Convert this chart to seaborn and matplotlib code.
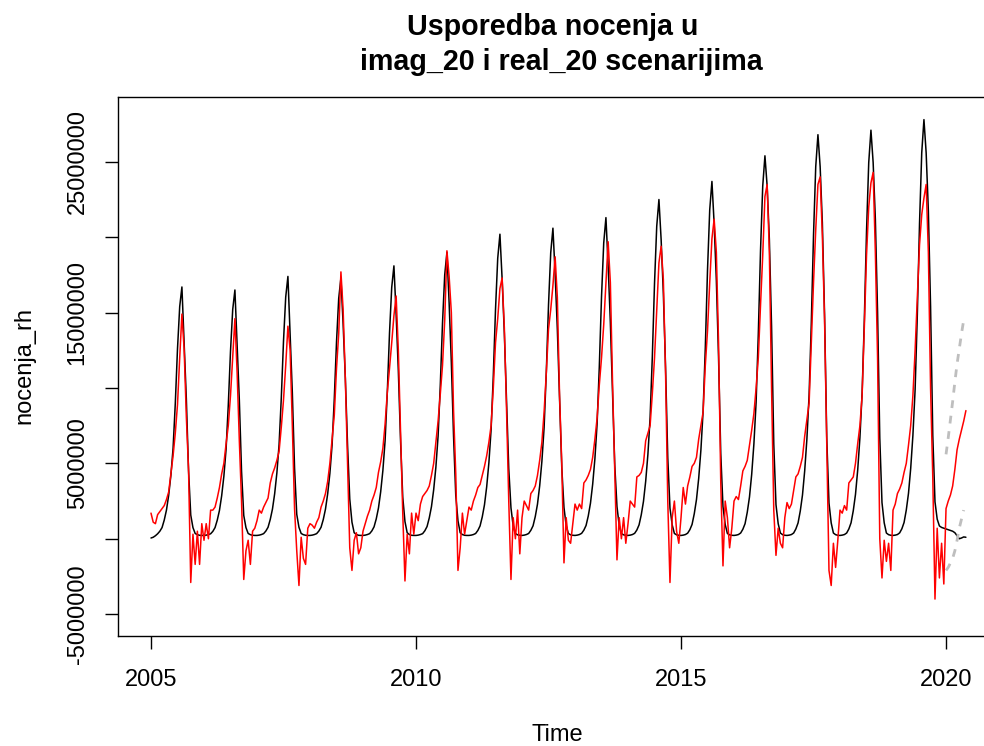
import numpy as np
import matplotlib
matplotlib.use("Agg")
import matplotlib.pyplot as plt
import seaborn as sns

# --- DATA (values in millions, 24 readings per year, from 2005.0) ---
START_YEAR = 2005
PER_YEAR = 24

imag_20 = [
    # 2005
    0.05, 0.1, 0.2, 0.33, 0.5, 0.74, 1.24, 1.9, 2.88, 4.2, 6.0, 8.97, 12.6, 15.4, 16.7, 13.08, 9.3, 4.53, 1.57, 0.74, 0.35, 0.27, 0.23, 0.22,
    # 2006
    0.22, 0.24, 0.28, 0.33, 0.49, 0.74, 1.23, 1.88, 2.85, 4.15, 5.94, 8.86, 12.44, 15.2, 16.5, 12.93, 9.19, 4.48, 1.55, 0.74, 0.35, 0.27, 0.23, 0.22,
    # 2007
    0.22, 0.24, 0.28, 0.34, 0.51, 0.76, 1.28, 1.97, 2.99, 4.37, 6.25, 9.34, 13.11, 16.03, 17.4, 13.63, 9.68, 4.71, 1.62, 0.76, 0.35, 0.27, 0.23, 0.22,
    # 2008
    0.22, 0.24, 0.28, 0.34, 0.51, 0.76, 1.27, 1.96, 2.98, 4.34, 6.22, 9.29, 13.04, 15.94, 17.3, 14.23, 10.65, 6.22, 2.64, 1.1, 0.4, 0.28, 0.23, 0.22,
    # 2009
    0.22, 0.24, 0.28, 0.34, 0.52, 0.79, 1.32, 2.04, 3.11, 4.53, 6.5, 9.71, 13.64, 16.67, 18.1, 14.89, 11.14, 6.5, 2.75, 1.14, 0.4, 0.28, 0.23, 0.22,
    # 2010
    0.22, 0.24, 0.28, 0.34, 0.53, 0.81, 1.38, 2.13, 3.25, 4.75, 6.81, 10.19, 14.31, 17.5, 19.0, 15.63, 11.69, 6.81, 2.88, 1.19, 0.4, 0.28, 0.23, 0.22,
    # 2011
    0.22, 0.24, 0.28, 0.35, 0.55, 0.85, 1.45, 2.25, 3.44, 5.04, 7.23, 10.82, 15.21, 18.6, 20.2, 17.21, 13.62, 9.23, 4.64, 2.05, 0.85, 0.35, 0.26, 0.23,
    # 2012
    0.22, 0.24, 0.28, 0.35, 0.56, 0.86, 1.47, 2.29, 3.51, 5.13, 7.37, 11.04, 15.51, 18.97, 20.6, 17.55, 13.88, 9.41, 4.73, 2.08, 0.86, 0.35, 0.26, 0.23,
    # 2013
    0.22, 0.24, 0.28, 0.36, 0.57, 0.88, 1.51, 2.36, 3.62, 5.3, 7.62, 11.41, 16.04, 19.62, 21.3, 18.14, 14.35, 9.72, 4.88, 2.14, 0.88, 0.35, 0.26, 0.23,
    # 2014
    0.22, 0.24, 0.28, 0.36, 0.58, 0.92, 1.59, 2.48, 3.81, 5.59, 8.04, 12.04, 16.94, 20.72, 22.5, 19.83, 16.27, 11.38, 5.37, 2.03, 0.92, 0.35, 0.26, 0.23,
    # 2015
    0.22, 0.24, 0.28, 0.37, 0.6, 0.95, 1.66, 2.6, 4.0, 5.88, 8.46, 12.68, 17.84, 21.82, 23.7, 20.89, 17.13, 11.98, 5.64, 2.13, 0.95, 0.35, 0.26, 0.23,
    # 2016
    0.22, 0.24, 0.28, 0.38, 0.63, 1.0, 1.76, 2.77, 4.27, 6.29, 9.05, 13.58, 19.11, 23.39, 25.4, 23.39, 19.87, 14.08, 6.29, 2.26, 1.0, 0.38, 0.27, 0.23,
    # 2017
    0.22, 0.24, 0.28, 0.38, 0.65, 1.05, 1.84, 2.9, 4.5, 6.62, 9.54, 14.32, 20.16, 24.68, 26.8, 24.68, 20.96, 14.85, 6.62, 2.37, 1.05, 0.38, 0.27, 0.23,
    # 2018
    0.22, 0.24, 0.28, 0.38, 0.65, 1.06, 1.86, 2.94, 4.55, 6.69, 9.65, 14.48, 20.39, 24.95, 27.1, 24.95, 21.19, 15.02, 6.69, 2.4, 1.06, 0.38, 0.27, 0.23,
    # 2019
    0.22, 0.24, 0.28, 0.39, 0.66, 1.08, 1.9, 3.01, 4.66, 6.86, 9.89, 14.85, 20.91, 25.6, 27.8, 25.6, 21.74, 15.4, 6.86, 2.45, 1.3, 0.85, 0.75, 0.7,
    # 2020
    0.65, 0.6, 0.55, 0.5, 0.4, 0.2, 0.0, 0.05, 0.12, 0.1,
]

real_20 = [
    # 2005
    1.7, 1.1, 1.0, 1.6, 1.8, 2.0, 2.2, 2.6, 3.1, 4.3, 5.5, 7.0, 8.9, 12.0, 14.9, 12.6, 8.1, 4.6, -2.9, 0.3, -1.7, 0.5, -1.7, 1.0,
    # 2006
    -0.1, 1.0, 0.0, 1.9, 1.9, 2.1, 2.7, 3.4, 4.3, 5.0, 6.3, 7.5, 9.5, 12.0, 14.6, 11.0, 6.5, 2.5, -2.7, -0.8, -0.1, -1.7, 0.5, 0.7,
    # 2007
    1.2, 1.9, 1.7, 2.1, 2.4, 2.7, 3.7, 4.3, 4.7, 5.2, 5.8, 7.4, 9.2, 11.5, 14.1, 12.5, 7.5, 2.0, -0.8, -3.1, 0.1, -1.3, -1.7, 0.7,
    # 2008
    1.0, 0.9, 0.7, 1.1, 1.4, 2.1, 2.5, 3.0, 3.8, 5.0, 6.6, 8.2, 11.3, 13.6, 17.7, 15.2, 10.6, 5.0, -0.6, -2.1, -0.1, 0.4, -1.0, -0.6,
    # 2009
    0.5, 1.0, 1.5, 1.9, 2.5, 2.9, 3.4, 4.4, 5.1, 6.0, 7.6, 9.7, 11.3, 13.0, 14.8, 16.1, 12.5, 7.2, 1.7, -2.8, 0.3, -1.0, 1.7, 0.3,
    # 2010
    1.7, 1.2, 2.3, 2.8, 3.0, 3.2, 3.5, 4.2, 5.0, 6.4, 7.8, 9.6, 11.5, 14.5, 19.1, 17.4, 15.0, 8.5, 4.3, -2.1, -0.6, 1.7, 0.3, 1.2,
    # 2011
    2.1, 1.9, 2.5, 2.9, 3.4, 3.6, 4.2, 4.8, 5.5, 6.4, 7.5, 10.0, 13.0, 14.6, 16.6, 17.3, 14.0, 8.5, 2.5, -2.7, 1.4, 0.0, 1.9, -1.0,
    # 2012
    1.4, 2.5, 2.2, 1.9, 3.0, 3.2, 3.5, 4.2, 5.2, 6.4, 8.4, 11.0, 13.9, 15.2, 16.8, 18.7, 16.0, 9.5, 5.0, -1.6, 1.4, -0.1, -0.3, 1.0,
    # 2013
    2.3, 1.9, 2.3, 2.0, 3.7, 3.9, 4.2, 4.6, 5.4, 6.6, 8.0, 10.2, 12.0, 14.2, 17.0, 19.7, 17.0, 10.3, 4.5, -1.4, 1.4, 0.0, 1.4, -0.3,
    # 2014
    1.0, 2.5, 2.3, 2.1, 4.1, 4.2, 4.4, 5.0, 6.5, 7.0, 7.5, 9.6, 12.0, 15.2, 18.3, 19.4, 17.2, 11.0, 2.5, -2.9, 1.4, 2.5, 0.5, -0.3,
    # 2015
    1.4, 3.4, 2.3, 3.5, 4.1, 4.8, 5.0, 5.4, 6.6, 7.5, 8.4, 11.5, 13.8, 17.0, 19.9, 21.2, 19.0, 13.0, 3.7, -1.8, 2.5, 1.4, -0.6, 0.7,
    # 2016
    2.5, 2.8, 2.6, 3.5, 4.5, 4.8, 5.2, 6.2, 7.2, 8.3, 10.0, 12.0, 15.5, 18.8, 22.7, 23.5, 19.0, 10.0, 1.9, -1.1, 0.7, -0.3, -0.6, 1.4,
    # 2017
    2.4, 2.0, 2.3, 3.2, 4.1, 4.3, 4.8, 5.4, 6.8, 7.9, 9.0, 13.0, 17.0, 20.5, 23.5, 24.0, 20.1, 14.5, 6.3, -2.1, -3.1, -0.3, -1.9, -0.1,
    # 2018
    1.9, 1.7, 2.2, 1.9, 3.7, 3.9, 4.1, 5.0, 6.3, 7.5, 9.5, 14.0, 18.8, 22.0, 23.6, 24.3, 19.0, 12.0, 0.0, -2.6, -0.1, -1.5, -0.3, -2.1,
    # 2019
    1.9, 2.3, 3.0, 3.3, 3.7, 4.4, 5.0, 6.2, 7.5, 9.5, 12.5, 16.0, 19.5, 21.5, 22.6, 23.5, 19.0, 10.0, 4.1, -4.0, 0.7, -2.6, -0.3, -3.0,
    # 2020
    2.0, 2.5, 2.9, 3.5, 4.6, 5.9, 6.6, 7.2, 7.8, 8.5,
]

# dashed grey band at the end (2020.0 onwards)
band_start = 2020.0
upper_band = [5.6, 6.7, 7.9, 9.1, 10.4, 11.6, 12.6, 13.6, 14.5]
lower_band = [-2.1, -1.9, -1.6, -1.3, -0.8, -0.1, 0.7, 1.3, 1.9]

title_lines = ["Usporedba nocenja u", "imag_20 i real_20 scenarijima"]
x_ticks = [2005, 2010, 2015, 2020]
y_ticks = [-5000000, 0, 5000000, 10000000, 15000000, 20000000, 25000000]
y_tick_labels = ["-5000000", "", "5000000", "", "15000000", "", "25000000"]

# --- build series ---
imag = np.array(imag_20) * 1e6
real = np.array(real_20) * 1e6
t_main = START_YEAR + np.arange(len(imag)) / PER_YEAR
t_band = band_start + np.arange(len(upper_band)) / PER_YEAR
upper = np.array(upper_band) * 1e6
lower = np.array(lower_band) * 1e6

# --- STYLE (R base graphics look) ---
sns.set_style("white")
plt.rcParams["font.family"] = ["Liberation Sans", "DejaVu Sans"]
plt.rcParams["text.color"] = "black"

fig = plt.figure(figsize=(9.84, 7.46), dpi=100)
ax = fig.add_axes([118.4 / 984, 110 / 746, 880.1 / 984, 539 / 746])

sns.lineplot(x=t_main, y=imag, ax=ax, color="black", linewidth=1.1, sort=False)
sns.lineplot(x=t_main, y=real, ax=ax, color="#FF0000", linewidth=1.1, sort=False)
sns.lineplot(x=t_band, y=upper, ax=ax, color="#BEBEBE", linewidth=2.0, sort=False)
sns.lineplot(x=t_band, y=lower, ax=ax, color="#BEBEBE", linewidth=2.0, sort=False)
for line in ax.lines[-2:]:
    line.set_dashes((2.8, 2.8))

ax.set_xlim(2004.385, 2020.99)
ax.set_ylim(-6.45e6, 29.3e6)

ax.set_xticks(x_ticks)
ax.set_xticklabels([str(x) for x in x_ticks])
ax.set_yticks(y_ticks)
ax.set_yticklabels(y_tick_labels, rotation=90, va="center")

ax.tick_params(axis="both", direction="out", length=9.4, width=1.0, color="black",
               labelsize=17, labelcolor="black", bottom=True, left=True)
ax.tick_params(axis="x", pad=14.5)
ax.tick_params(axis="y", pad=12)

for sp in ax.spines.values():
    sp.set_visible(True)
    sp.set_color("black")
    sp.set_linewidth(1.0)

ax.set_xlabel("")
ax.set_ylabel("")

fig.text(24 / 984, 1 - 366 / 746, "nocenja_rh", rotation=90, ha="center", va="center",
         fontsize=17, color="black")
fig.text(557 / 984, 1 - 741 / 746, "Time", ha="center", va="baseline",
         fontsize=17, color="black")

fig.text(553 / 984, 1 - 35 / 746, title_lines[0], ha="center", va="baseline",
         fontsize=20.6, fontweight="bold", color="black")
fig.text(561 / 984, 1 - 70 / 746, title_lines[1], ha="center", va="baseline",
         fontsize=20.6, fontweight="bold", color="black")

fig.savefig("out.png", dpi=100)
